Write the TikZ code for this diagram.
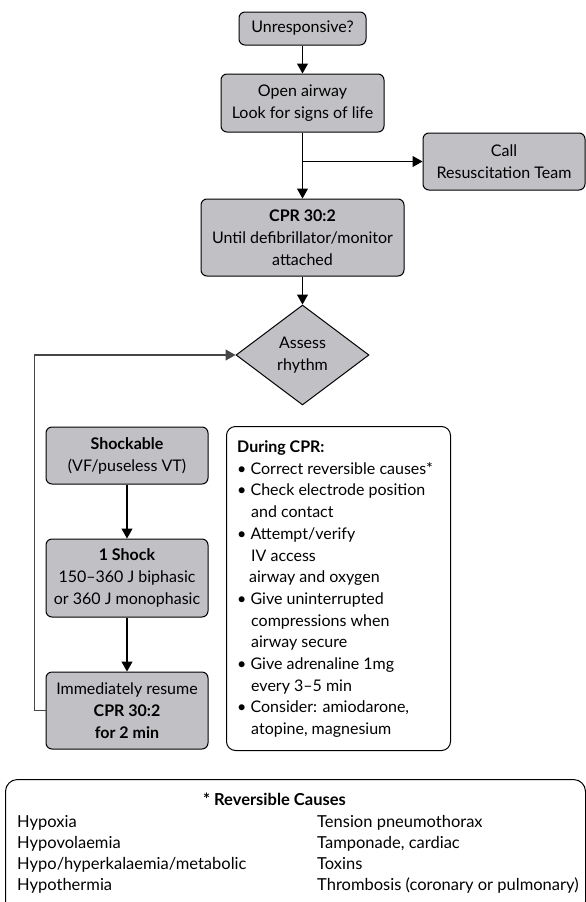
\documentclass[tikz,border=0pt]{standalone}
\usepackage{fontspec}
\setmainfont{Lato}
\usetikzlibrary{arrows.meta,shapes.geometric}
\definecolor{boxgray}{RGB}{192,192,197}
\definecolor{loopgray}{RGB}{70,70,70}
\tikzset{
  box/.style={draw=black, line width=1pt, fill=boxgray, rounded corners=6pt,
    align=center, inner sep=0pt, font=\fontsize{16}{22}\selectfont},
  conn/.style={line width=1.2pt, -{Triangle[width=11pt,length=10pt]}},
  txt/.style={inner sep=0pt, anchor=base west, font=\fontsize{16.5}{21}\selectfont},
  listtxt/.style={inner sep=0pt, anchor=north west, align=left,
    font=\fontsize{16}{21.7}\selectfont},
}
\begin{document}
\begin{tikzpicture}[x=1pt,y=-1pt]
\useasboundingbox (0,0) rectangle (586,902);

% main flow
\node[box, minimum width=127pt, minimum height=33pt] (unr) at (302.5,28.5) {Unresponsive?};
\node[box, minimum width=163pt, minimum height=58pt] (open) at (302.5,103) {Open airway\\Look for signs of life};
\node[box, minimum width=162pt, minimum height=57pt] (call) at (504,161.5) {Call\\Resuscitation Team};
\node[box, minimum width=203pt, minimum height=77pt] (cpr) at (302.5,237.5) {\textbf{CPR 30:2}\\Until defibrillator/monitor\\attached};
\node[box, diamond, rounded corners=0pt, minimum width=133pt, minimum height=100pt] (diam) at (302.5,355) {Assess\\rhythm};

\draw[conn] (unr) -- (open);
\draw[conn] (open) -- (cpr);
\draw[conn] (open.south |- call.west) -- (call.west);
\draw[conn] (cpr) -- (diam);

% left column
\node[box, minimum width=162pt, minimum height=57pt] (shock) at (127,455.5) {\textbf{Shockable}\\(VF/puseless VT)};
\node[box, minimum width=162pt, minimum height=78pt] (one) at (127,578) {\textbf{1 Shock}\\150–360 J biphasic\\or 360 J monophasic};
\node[box, minimum width=162pt, minimum height=77pt] (imm) at (127,710.5) {Immediately resume\\\textbf{CPR 30:2}\\\textbf{for 2 min}};

\draw[conn] (shock) -- (one);
\draw[conn] (one) -- (imm);
\draw[conn, draw=loopgray] (imm.west) -- ++(-11,0) |- (diam.west);

% During CPR box
\node[draw=black, line width=1pt, fill=white, rounded corners=9pt, inner sep=0pt,
  minimum width=224pt, minimum height=324pt, anchor=north west] (during) at (226,426) {};
\node[listtxt] (dlist) at (237,440.5) {%
\textbf{During CPR:}\\
\textbullet\ Correct reversible causes*\\
\textbullet\ Check electrode position\\
\hspace*{14pt}and contact\\
\textbullet\ Attempt/verify\\
\hspace*{14pt}IV access\\
\hspace*{12pt}airway and oxygen\\
\textbullet\ Give uninterrupted\\
\hspace*{14pt}compressions when\\
\hspace*{14pt}airway secure\\
\textbullet\ Give adrenaline 1mg\\
\hspace*{14pt}every 3–5 min\\
\textbullet\ Consider: amiodarone,\\
\hspace*{14pt}atopine, magnesium};

% Reversible causes box
\node[draw=black, line width=1pt, fill=white, rounded corners=12pt, inner sep=0pt,
  minimum width=580pt, minimum height=134pt, anchor=north west] (rev) at (5,779) {};
\node[txt, anchor=base] (revt) at (274.5,805) {\textbf{* Reversible Causes}};
\node[txt] (l1) at (17,827) {Hypoxia};
\node[txt] (l2) at (17,848) {Hypovolaemia};
\node[txt] (l3) at (17,869) {Hypo/hyperkalaemia/metabolic};
\node[txt] (l4) at (17,890) {Hypothermia};
\node[txt] (r1) at (317,827) {Tension pneumothorax};
\node[txt] (r2) at (317,848) {Tamponade, cardiac};
\node[txt] (r3) at (317,869) {Toxins};
\node[txt] (r4) at (317,890) {Thrombosis (coronary or pulmonary)};
\end{tikzpicture}
\end{document}
